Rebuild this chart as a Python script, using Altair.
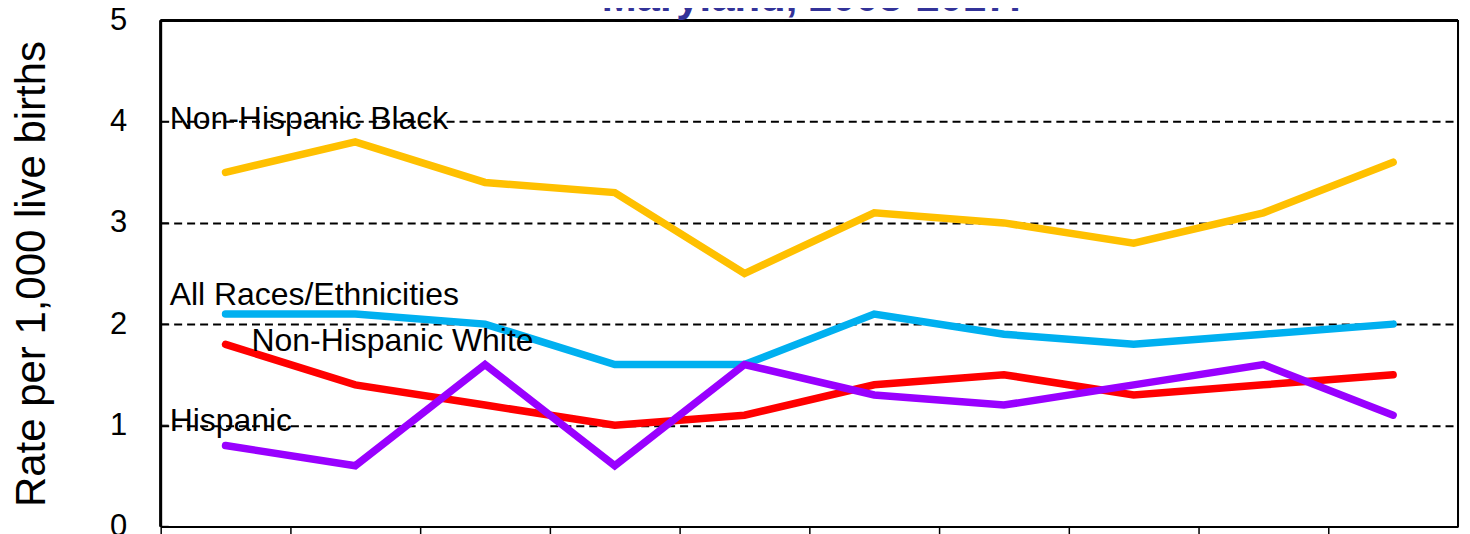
import altair as alt
import pandas as pd

# ---- data ----
years = [2008, 2009, 2010, 2011, 2012, 2013, 2014, 2015, 2016, 2017]
nh_black = [3.5, 3.8, 3.4, 3.3, 2.5, 3.1, 3.0, 2.8, 3.1, 3.6]
all_races = [2.1, 2.1, 2.0, 1.6, 1.6, 2.1, 1.9, 1.8, 1.9, 2.0]
nh_white = [1.8, 1.4, 1.2, 1.0, 1.1, 1.4, 1.5, 1.3, 1.4, 1.5]
hispanic = [0.8, 0.6, 1.6, 0.6, 1.6, 1.3, 1.2, 1.4, 1.6, 1.1]

series_names = ["Non-Hispanic Black", "All Races/Ethnicities", "Non-Hispanic White", "Hispanic"]
series_values = [nh_black, all_races, nh_white, hispanic]
series_colors = ["#FFC000", "#00B0F0", "#FF0000", "#9900FF"]

# in-chart label anchors (value on the y scale at the text baseline)
label_values = [3.93, 2.19, 1.73, 0.94]
label_dx = [9, 9, 91, 9]

title_text = "Maryland, 2008-2017."
y_title = "Rate per 1,000 live births"
y_ticks = [0, 1, 2, 3, 4, 5]

FONT = "Liberation Sans"
W, H = 1300, 507

rows = []
for name, vals in zip(series_names, series_values):
    for yr, v in zip(years, vals):
        rows.append({"series": name, "year": yr, "rate": v})
df = pd.DataFrame(rows)

x_scale = alt.Scale(type="band", paddingInner=0, paddingOuter=0, domain=years)
y_scale = alt.Scale(domain=[0, 5], nice=False, zero=True)

x_axis = alt.Axis(title=None, bandPosition=0, domain=True, domainColor="black", domainWidth=2,
                  tickColor="black", tickWidth=1.5, tickSize=8, labelFontSize=28,
                  labelFont=FONT, labelColor="black", labelAngle=0, grid=False)
y_axis = alt.Axis(title=y_title, values=y_ticks, ticks=False, tickSize=0, domain=True,
                  labelPadding=34, labelFontSize=31, labelFont=FONT,
                  labelColor="black", domainColor="black", domainWidth=2,
                  titleFontSize=42, titleFont=FONT, titleFontWeight="normal",
                  titleColor="black", titlePadding=56,
                  grid=True, gridColor="black", gridDash=[8, 5], gridWidth=2,
                  gridOpacity=1)

X = lambda bp: alt.X("year:O", scale=x_scale, bandPosition=bp, axis=x_axis)

# draw series in order so that later ones sit on top
line_layers = []
for name, col in zip(series_names, series_colors):
    line_layers.append(
        alt.Chart(df[df.series == name]).mark_line(strokeWidth=7.5, strokeCap="round", color=col).encode(
            x=X(0.5),
            y=alt.Y("rate:Q", scale=y_scale, axis=y_axis),
        )
    )

label_df = pd.DataFrame({"name": series_names, "val": label_values, "year": [years[0]] * 4})
text_layers = []
for i, name in enumerate(series_names):
    text_layers.append(
        alt.Chart(label_df[label_df.name == name]).mark_text(
            align="left", baseline="alphabetic", dx=label_dx[i], fontSize=32, font=FONT,
            color="black").encode(
            x=X(0),
            y=alt.Y("val:Q", scale=y_scale, axis=y_axis),
            text="name:N",
        )
    )

# inward-pointing ticks on the left edge
tick_df = pd.DataFrame({"v": y_ticks})
inner_ticks = alt.Chart(tick_df).mark_tick(orient="horizontal", size=8, thickness=1.5,
                                           color="black").encode(
    x=alt.value(4),
    y=alt.Y("v:Q", scale=y_scale, axis=y_axis),
)

# plot frame (left, right, top)
frame = [
    alt.Chart(tick_df).mark_rule(color="black", strokeWidth=2).encode(
        x=alt.value(0), y=alt.value(0), y2=alt.value(H)),
    alt.Chart(tick_df).mark_rule(color="black", strokeWidth=2).encode(
        x=alt.value(W), y=alt.value(0), y2=alt.value(H)),
    alt.Chart(tick_df).mark_rule(color="black", strokeWidth=2).encode(
        x=alt.value(0), x2=alt.value(W), y=alt.value(0)),
]

title_df = pd.DataFrame({"t": [title_text]})
title_mark = alt.Chart(title_df).mark_text(fontSize=42, fontWeight="bold", color="#333399",
                                           font=FONT, align="center",
                                           baseline="alphabetic").encode(
    x=alt.value(W / 2 + 2), y=alt.value(-10), text="t:N")

chart = alt.layer(*frame, *line_layers, *text_layers, inner_ticks, title_mark).properties(
    width=W,
    height=H,
    autosize=alt.AutoSizeParams(type="none"),
    padding={"left": 153, "top": 12, "right": 4, "bottom": 30},
).configure_view(stroke="black", strokeWidth=2).configure(background="white")

chart.save("out.html", embed_options={"renderer": "svg", "actions": False})
